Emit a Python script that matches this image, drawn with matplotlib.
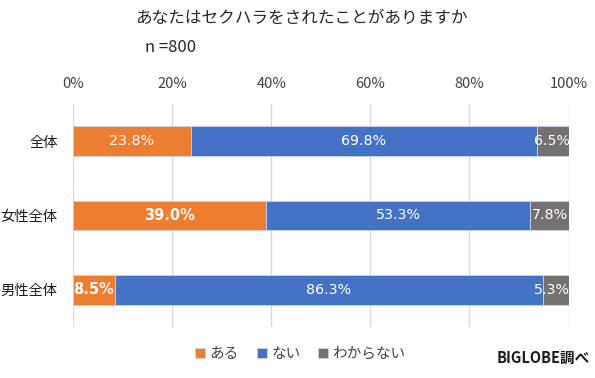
import matplotlib
matplotlib.use("Agg")
import matplotlib.pyplot as plt
import numpy as np

plt.rcParams['font.family'] = ['Noto Sans CJK JP', 'DejaVu Sans']

categories = ["全体", "女性全体", "男性全体"]
series_names = ["ある", "ない", "わからない"]
aru = [23.8, 39.0, 8.5]
nai = [69.8, 53.3, 86.3]
wakaranai = [6.5, 7.8, 5.3]
colors = ["#ED7D31", "#4472C4", "#767171"]
bold_labels = {(0, 1), (0, 2)}  # (series, category)

fig = plt.figure(figsize=(5.95, 3.78), dpi=100)
ax = fig.add_axes([0.1227, 0.135, 0.8336, 0.59])

y = np.arange(len(categories))
left = np.zeros(len(categories))
for si, (name, vals, c) in enumerate(zip(series_names, [aru, nai, wakaranai], colors)):
    vals = np.array(vals)
    ax.barh(y, vals, left=left, height=0.4, color=c, edgecolor="#C9D3EA", linewidth=0.6, label=name, zorder=3)
    for ci, v in enumerate(vals):
        cx = left[ci] + v / 2
        bold = (si, ci) in bold_labels
        if si == 2:
            cx = min(cx, 100.1 - 3.4)
        if si == 0 and ci == 2:
            cx = 4.2
        ax.text(cx, y[ci], f"{v:.1f}%", ha="center", va="center", color="white",
                fontsize=10.5 if bold else 10.3, fontweight="bold" if bold else "normal",
                family=["DejaVu Sans"], zorder=4)
    left += vals

ax.set_xlim(0, 100.1)
ax.set_ylim(2.5, -0.5)
ax.set_yticks(y)
ax.set_yticklabels(categories, fontsize=10.3, color="#1a1a1a")
ax.set_xticks([0, 20, 40, 60, 80, 100])
ax.set_xticklabels([f"{t}%" for t in [0, 20, 40, 60, 80, 100]], fontsize=10.5, color="#404040")
ax.xaxis.tick_top()
ax.tick_params(axis="x", length=0, pad=9)
ax.tick_params(axis="y", length=0, pad=11)
ax.grid(axis="x", color="#D9D9D9", linewidth=1, zorder=0)
for s in ax.spines.values():
    s.set_visible(False)

fig.text(0.506, 0.952, "あなたはセクハラをされたことがありますか", ha="center", va="center", fontsize=12, color="#262626")
fig.text(0.244, 0.874, "n =800", ha="left", va="center", fontsize=12, color="#262626")

handles, labels = ax.get_legend_handles_labels()
leg = fig.legend(handles, labels, loc="center", bbox_to_anchor=(0.505, 0.064), ncol=3, frameon=False,
                 fontsize=10.5, handlelength=0.7, handleheight=0.7, handletextpad=0.3, columnspacing=1.2)
for t in leg.get_texts():
    t.set_color("#404040")

fig.text(0.992, 0.053, "BIGLOBE調べ", ha="right", va="center", fontsize=10.5, fontweight="bold", color="#1a1a1a")

fig.savefig("out.png", dpi=100)
